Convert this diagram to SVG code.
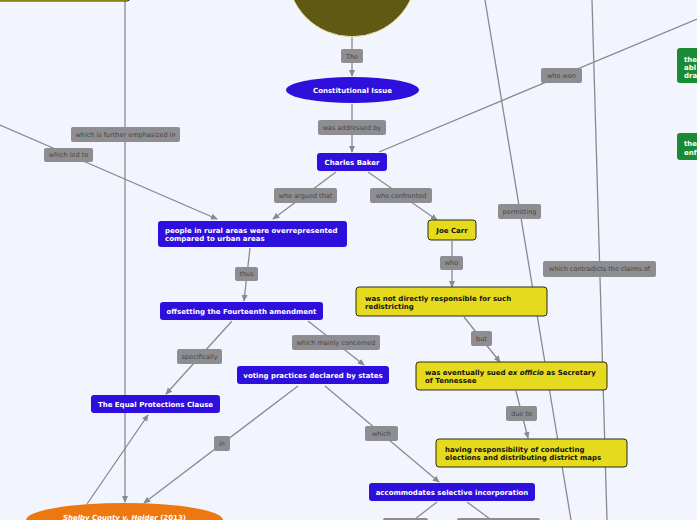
<svg xmlns="http://www.w3.org/2000/svg" width="697" height="520" viewBox="0 0 697 520">
<defs>
<marker id="arr" viewBox="0 0 8 8" refX="7" refY="4" markerWidth="7" markerHeight="7" markerUnits="userSpaceOnUse" orient="auto">
<path d="M0,0.5 L8,4 L0,7.5 Z" fill="#8a8a8e"/>
</marker>
<style>
.ln{stroke:#8a8a8e;stroke-width:1.3;fill:none}
.ar{marker-end:url(#arr)}
.lb{fill:#8e8e92}
.lt{font-family:"DejaVu Sans",Verdana,sans-serif;font-size:6.5px;fill:#454545;text-anchor:middle}
.blue{fill:#2f0fdc}
.yel{fill:#e6da1e;stroke:#2a2a1a;stroke-width:1}
.grn{fill:#1b8a34}
.wt{font-family:"DejaVu Sans",Verdana,sans-serif;font-size:7px;font-weight:bold;fill:#ffffff}
.bt{font-family:"DejaVu Sans",Verdana,sans-serif;font-size:7px;font-weight:bold;fill:#111111}
.mid{text-anchor:middle}
</style>
</defs>
<rect width="697" height="520" fill="#f3f5fe"/>

<g id="connectors">
<path class="ln ar" d="M352,37 L352,76"/>
<path class="ln ar" d="M352,104 L352,152"/>
<path class="ln" d="M379,152 L697,19"/>
<path class="ln ar" d="M336,172 L273,219"/>
<path class="ln ar" d="M368,172 L437,220"/>
<path class="ln ar" d="M0,125 L217,219"/>
<path class="ln ar" d="M125,0 L125,502"/>
<path class="ln ar" d="M250,248 L244,301"/>
<path class="ln ar" d="M308,321 L364,365"/>
<path class="ln ar" d="M232,321 L166,394"/>
<path class="ln ar" d="M87,504 L148,415"/>
<path class="ln ar" d="M298,386 L144,503"/>
<path class="ln ar" d="M325,386 L439,482"/>
<path class="ln ar" d="M452,241 L452,287"/>
<path class="ln ar" d="M464,317 L500,362"/>
<path class="ln ar" d="M516,391 L528,438"/>
<path class="ln" d="M485,0 L571,520"/>
<path class="ln" d="M592,0 L607,520"/>
<path class="ln" d="M437,502 L415,519"/>
<path class="ln" d="M467,502 L490,519"/>

<rect class="lb" x="341" y="49" width="22" height="14" rx="2"/>
<text class="lt" x="352" y="58.5">The</text>
<rect class="lb" x="318" y="120" width="68" height="15" rx="2"/>
<text class="lt" x="352" y="129.8">was addressed by</text>
<rect class="lb" x="541" y="68" width="41" height="15" rx="2"/>
<text class="lt" x="561.5" y="77.8">who won</text>
<rect class="lb" x="274" y="188" width="63" height="15" rx="2"/>
<text class="lt" x="305.5" y="197.8">who argued that</text>
<rect class="lb" x="370" y="188" width="62" height="15" rx="2"/>
<text class="lt" x="401" y="197.8">who confronted</text>
<rect class="lb" x="44" y="148" width="49" height="14" rx="2"/>
<text class="lt" x="68.5" y="157.3">which led to</text>
<rect class="lb" x="71" y="127" width="109" height="15" rx="2"/>
<text class="lt" x="125.5" y="136.8">which is further emphasized in</text>
<rect class="lb" x="235" y="267" width="23" height="14" rx="2"/>
<text class="lt" x="246.5" y="276.3">thus</text>
<rect class="lb" x="292" y="335" width="88" height="15" rx="2"/>
<text class="lt" x="336" y="344.8">which mainly concerned</text>
<rect class="lb" x="177" y="349" width="45" height="15" rx="2"/>
<text class="lt" x="199.5" y="358.8">specifically</text>
<rect class="lb" x="214" y="436" width="16" height="15" rx="2"/>
<text class="lt" x="222" y="445.8">in</text>
<rect class="lb" x="365" y="426" width="33" height="15" rx="2"/>
<text class="lt" x="381.5" y="435.8">which</text>
<rect class="lb" x="440" y="256" width="23" height="14" rx="2"/>
<text class="lt" x="451.5" y="265.3">who</text>
<rect class="lb" x="471" y="331" width="21" height="15" rx="2"/>
<text class="lt" x="481.5" y="340.8">but</text>
<rect class="lb" x="506" y="406" width="31" height="15" rx="2"/>
<text class="lt" x="521.5" y="415.8">due to</text>
<rect class="lb" x="498" y="204" width="43" height="15" rx="2"/>
<text class="lt" x="519.5" y="213.8">permitting</text>
<rect class="lb" x="543" y="261" width="113" height="16" rx="2"/>
<text class="lt" x="599.5" y="271.3">which contradicts the claims of</text>
<rect class="lb" x="383" y="518" width="45" height="10" rx="2"/>
<rect class="lb" x="457" y="518" width="83" height="10" rx="2"/>
</g>

<g id="n-top-yellow">
<rect class="yel" x="-10" y="-20" width="140" height="21" rx="3"/>
</g>
<g id="n-circle">
<circle cx="352" cy="-28" r="64.7" fill="#5f5914" stroke="#e8e0a0" stroke-width="1"/>
</g>
<g id="n-constitutional">
<ellipse class="blue" cx="352.5" cy="90" rx="66.5" ry="13"/>
<text class="wt mid" x="352.5" y="92.5">Constitutional Issue</text>
</g>
<g id="n-charles">
<rect class="blue" x="317" y="153" width="70" height="18" rx="3"/>
<text class="wt mid" x="352" y="164.5">Charles Baker</text>
</g>
<g id="n-people">
<rect class="blue" x="158" y="221" width="189" height="26" rx="3"/>
<text class="wt" x="165" y="232.8">people in rural areas were overrepresented</text>
<text class="wt" x="165" y="241.2">compared to urban areas</text>
</g>
<g id="n-offsetting">
<rect class="blue" x="160" y="302" width="163" height="18" rx="3"/>
<text class="wt mid" x="241.5" y="313.5">offsetting the Fourteenth amendment</text>
</g>
<g id="n-voting">
<rect class="blue" x="237" y="366" width="152" height="18" rx="3"/>
<text class="wt mid" x="313" y="377.5">voting practices declared by states</text>
</g>
<g id="n-equal">
<rect class="blue" x="91" y="395" width="129" height="18" rx="3"/>
<text class="wt mid" x="155.5" y="406.5">The Equal Protections Clause</text>
</g>
<g id="n-shelby">
<ellipse cx="124.5" cy="520" rx="98.5" ry="17" fill="#ee7810"/>
<text class="wt mid" x="124.5" y="520"><tspan font-style="italic">Shelby County v. Holder</tspan> (2013)</text>
</g>
<g id="n-joe">
<rect class="yel" x="428" y="220" width="48" height="20" rx="3"/>
<text class="bt mid" x="452" y="232.5">Joe Carr</text>
</g>
<g id="n-notdirect">
<rect class="yel" x="356" y="287" width="191" height="29" rx="3"/>
<text class="bt" x="365" y="301">was not directly responsible for such</text>
<text class="bt" x="365" y="309">redistricting</text>
</g>
<g id="n-sued">
<rect class="yel" x="416" y="362" width="191" height="28" rx="3"/>
<text class="bt" x="425" y="375">was eventually sued <tspan font-style="italic">ex officio</tspan> as Secretary</text>
<text class="bt" x="425" y="383">of Tennessee</text>
</g>
<g id="n-having">
<rect class="yel" x="436" y="439" width="191" height="28" rx="3"/>
<text class="bt" x="445" y="452">having responsibility of conducting</text>
<text class="bt" x="445" y="460">elections and distributing district maps</text>
</g>
<g id="n-accommodates">
<rect class="blue" x="369" y="483" width="166" height="18" rx="3"/>
<text class="wt mid" x="452" y="494.5">accommodates selective incorporation</text>
</g>
<g id="n-green1">
<rect class="grn" x="677" y="48" width="40" height="35" rx="3"/>
<text class="wt" x="684" y="61.5">the</text>
<text class="wt" x="684" y="69.5">abl</text>
<text class="wt" x="684" y="77.5">dra</text>
</g>
<g id="n-green2">
<rect class="grn" x="677" y="133" width="40" height="27" rx="3"/>
<text class="wt" x="684" y="146">the</text>
<text class="wt" x="684" y="154.5">enf</text>
</g>
</svg>
